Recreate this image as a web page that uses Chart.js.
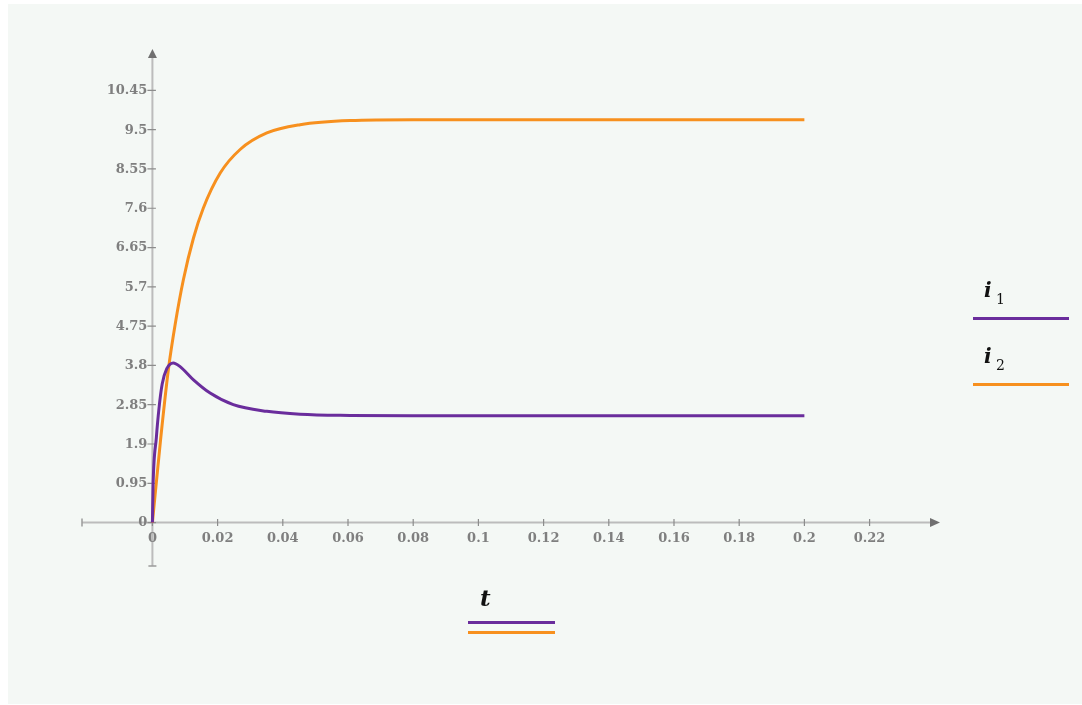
<!DOCTYPE html>
<html>
<head>
<meta charset="utf-8">
<title>i1, i2 vs t</title>
<script src="https://cdn.jsdelivr.net/npm/chart.js@4.4.0/dist/chart.umd.min.js"></script>
<style>
html, body { margin: 0; padding: 0; background: #ffffff; }
#wrap { position: absolute; left: 0; top: 0; width: 1082px; height: 705px; }
</style>
</head>
<body>
<div id="wrap"><canvas id="plot"></canvas></div>
<script>
// Data

const t1 = [0, 0.0002, 0.0012, 0.002, 0.003, 0.0044, 0.0064, 0.0085, 0.0126, 0.0177, 0.0248, 0.0351, 0.0453, 0.0606, 0.08, 0.1, 0.2]
const i1 = [0, 0.9, 2.05, 2.75, 3.35, 3.72, 3.86, 3.77, 3.45, 3.13, 2.85, 2.69, 2.62, 2.59, 2.58, 2.58, 2.58]

const t2 = [0, 0.0025, 0.0049, 0.007, 0.0095, 0.0126, 0.0156, 0.0208, 0.0269, 0.0351, 0.0453, 0.0606, 0.08, 0.1, 0.2]
const i2 = [0, 2.0, 3.7, 4.8, 5.87, 6.88, 7.6, 8.45, 9.02, 9.42, 9.62, 9.72, 9.74, 9.74, 9.74]

const xTicks = [0, 0.02, 0.04, 0.06, 0.08, 0.1, 0.12, 0.14, 0.16, 0.18, 0.2, 0.22]
const xTickLabels = ["0", "0.02", "0.04", "0.06", "0.08", "0.1", "0.12", "0.14", "0.16", "0.18", "0.2", "0.22"]
const yTicks = [0, 0.95, 1.9, 2.85, 3.8, 4.75, 5.7, 6.65, 7.6, 8.55, 9.5, 10.45]
const yTickLabels = ["0", "0.95", "1.9", "2.85", "3.8", "4.75", "5.7", "6.65", "7.6", "8.55", "9.5", "10.45"]

const purple = "#6a2d9c"
const orange = "#f7901e"

function toPoints(xs, ys){
	return xs.map((x, k) => ({ x: x, y: ys[k] }))
}


// Background, axes, ticks and the little legends

const axesPlugin = {
	id: "mathAxes",
	beforeDraw(chart){
		let ctx = chart.ctx
		ctx.save()
		ctx.fillStyle = "#f4f8f5"
		ctx.fillRect(8, 4, chart.width - 8, chart.height - 5)
		ctx.restore()
	},
	beforeDatasetsDraw(chart){
		let ctx = chart.ctx
		let xs = chart.scales.x
		let ys = chart.scales.y
		let ax = xs.getPixelForValue(0)
		let ay = ys.getPixelForValue(0)
		let area = chart.chartArea

		ctx.save()
		ctx.strokeStyle = "#bcbcbc"
		ctx.lineWidth = 2

		// x axis
		ctx.beginPath()
		ctx.moveTo(area.left, ay)
		ctx.lineTo(area.right - 8, ay)
		ctx.stroke()
		// y axis
		ctx.beginPath()
		ctx.moveTo(ax, area.bottom)
		ctx.lineTo(ax, area.top + 8)
		ctx.stroke()

		// end caps
		ctx.lineWidth = 1.5
		ctx.strokeStyle = "#9a9a9a"
		ctx.beginPath()
		ctx.moveTo(area.left, ay - 4)
		ctx.lineTo(area.left, ay + 4)
		ctx.moveTo(ax - 4, area.bottom)
		ctx.lineTo(ax + 4, area.bottom)
		ctx.stroke()

		// arrow heads
		ctx.fillStyle = "#707070"
		ctx.beginPath()
		ctx.moveTo(area.right, ay)
		ctx.lineTo(area.right - 10, ay - 4.5)
		ctx.lineTo(area.right - 10, ay + 4.5)
		ctx.closePath()
		ctx.fill()
		ctx.beginPath()
		ctx.moveTo(ax, area.top)
		ctx.lineTo(ax - 4.5, area.top + 9)
		ctx.lineTo(ax + 4.5, area.top + 9)
		ctx.closePath()
		ctx.fill()

		// tick marks
		ctx.strokeStyle = "#8c8c8c"
		ctx.lineWidth = 1.2
		ctx.beginPath()
		xTicks.forEach(v => {
			let px = xs.getPixelForValue(v)
			ctx.moveTo(px, ay - 3.5)
			ctx.lineTo(px, ay + 3.5)
		})
		yTicks.forEach(v => {
			let py = ys.getPixelForValue(v)
			ctx.moveTo(ax - 5, py)
			ctx.lineTo(ax + 3.5, py)
		})
		ctx.stroke()

		// tick labels
		ctx.fillStyle = "#7f7f7f"
		ctx.font = "bold 13px 'DejaVu Serif'"
		ctx.textAlign = "center"
		ctx.textBaseline = "top"
		xTicks.forEach((v, k) => {
			ctx.fillText(xTickLabels[k], xs.getPixelForValue(v), ay + 10)
		})
		ctx.textAlign = "right"
		ctx.textBaseline = "middle"
		yTicks.forEach((v, k) => {
			ctx.fillText(yTickLabels[k], ax - 5, ys.getPixelForValue(v) + 0.5)
		})
		ctx.restore()
	},
	afterDraw(chart){
		let ctx = chart.ctx
		ctx.save()
		ctx.fillStyle = "#111111"
		ctx.textAlign = "left"
		ctx.textBaseline = "alphabetic"

		// right legend
		ctx.font = "bold italic 20px 'DejaVu Serif'"
		ctx.fillText("i", 984, 297)
		ctx.fillText("i", 984, 363)
		ctx.font = "14px 'DejaVu Serif'"
		ctx.fillText("1", 996, 304)
		ctx.fillText("2", 996, 370)

		ctx.lineWidth = 3
		ctx.strokeStyle = purple
		ctx.beginPath()
		ctx.moveTo(973, 318.5)
		ctx.lineTo(1069, 318.5)
		ctx.stroke()
		ctx.strokeStyle = orange
		ctx.beginPath()
		ctx.moveTo(973, 384.5)
		ctx.lineTo(1069, 384.5)
		ctx.stroke()

		// x legend
		ctx.font = "bold italic 23px 'DejaVu Serif'"
		ctx.fillText("t", 480, 606)
		ctx.strokeStyle = purple
		ctx.beginPath()
		ctx.moveTo(468, 622.5)
		ctx.lineTo(555, 622.5)
		ctx.stroke()
		ctx.strokeStyle = orange
		ctx.beginPath()
		ctx.moveTo(468, 632.5)
		ctx.lineTo(555, 632.5)
		ctx.stroke()
		ctx.restore()
	}
}


// Build the chart

let ctx = document.getElementById("plot").getContext("2d")

new Chart(ctx, {
	type: "scatter",
	data: {
		datasets: [
			{
				label: "i1",
				data: toPoints(t1, i1),
				showLine: true,
				borderColor: purple,
				borderWidth: 3,
				pointRadius: 0,
				cubicInterpolationMode: "monotone"
			},
			{
				label: "i2",
				data: toPoints(t2, i2),
				showLine: true,
				borderColor: orange,
				borderWidth: 3,
				pointRadius: 0,
				cubicInterpolationMode: "monotone"
			}
		]
	},
	options: {
		responsive: true,
		maintainAspectRatio: false,
		animation: false,
		devicePixelRatio: 1,
		layout: { padding: { left: 82, right: 142, top: 49, bottom: 139 } },
		plugins: {
			legend: { display: false },
			tooltip: { enabled: false },
			title: { display: false }
		},
		scales: {
			x: { type: "linear", min: -0.0216, max: 0.2416, display: false },
			y: { type: "linear", min: -1.05, max: 11.45, display: false }
		}
	},
	plugins: [axesPlugin]
})
</script>
</body>
</html>
